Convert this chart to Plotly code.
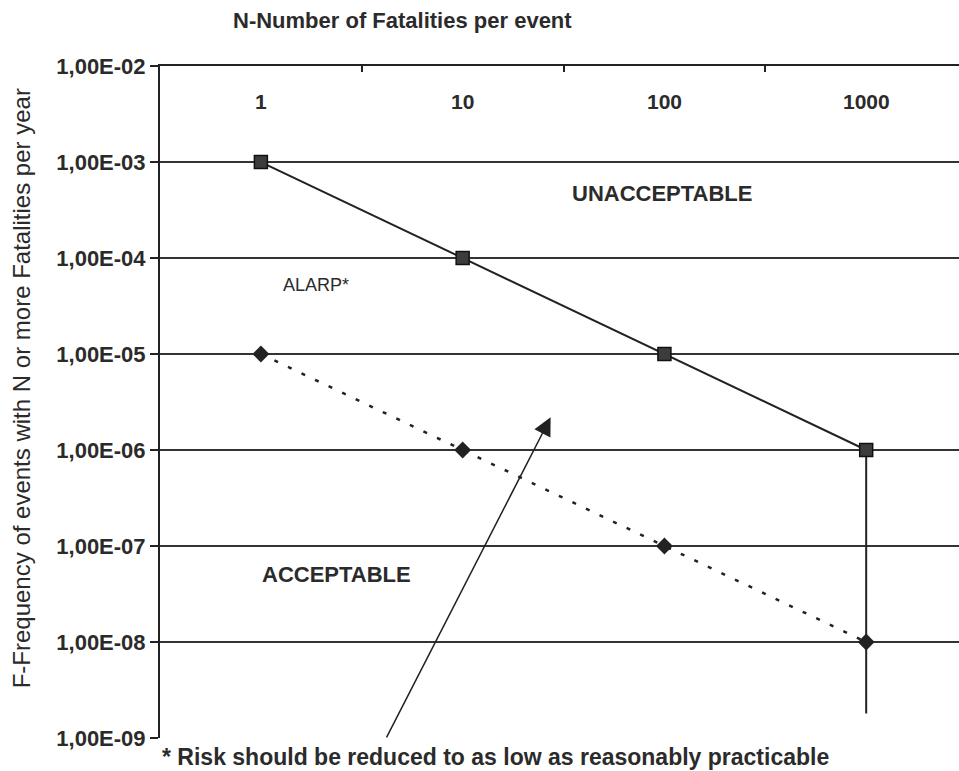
import plotly.graph_objects as go

# ---- data ----
n_categories = ["1", "10", "100", "1000"]
upper_limit_f = [1e-3, 1e-4, 1e-5, 1e-6]        # unacceptable boundary
lower_limit_f = [1e-5, 1e-6, 1e-7, 1e-8]        # acceptable boundary
vertical_n = ["1000", "1000"]
vertical_f = [1e-6, 1.8e-9]
y_tickvals = [1e-2, 1e-3, 1e-4, 1e-5, 1e-6, 1e-7, 1e-8, 1e-9]
y_ticktext = ["1,00E-02", "1,00E-03", "1,00E-04", "1,00E-05",
              "1,00E-06", "1,00E-07", "1,00E-08", "1,00E-09"]
grid_vals = [1e-3, 1e-4, 1e-5, 1e-6, 1e-7, 1e-8]

FONT = "Liberation Sans, Arial, sans-serif"
TXT = "#2b2b2b"
LINE = "#222222"
YR = [-9.0005, -1.9995]

fig = go.Figure()

# empty trace to hold the labelled axis
fig.add_trace(go.Scatter(x=[None], y=[None], yaxis="y", showlegend=False, hoverinfo="skip"))

fig.add_trace(go.Scatter(
    x=vertical_n, y=vertical_f, yaxis="y2", mode="lines",
    line=dict(color=LINE, width=2), showlegend=False))

fig.add_trace(go.Scatter(
    x=n_categories, y=lower_limit_f, yaxis="y2", mode="lines+markers",
    line=dict(color=LINE, width=2.5, dash="4px,11px"),
    marker=dict(symbol="diamond", size=13, color="#222222"),
    showlegend=False))

fig.add_trace(go.Scatter(
    x=n_categories, y=upper_limit_f, yaxis="y2", mode="lines+markers",
    line=dict(color=LINE, width=2),
    marker=dict(symbol="square", size=13, color="#3c3c3c",
                line=dict(color="#111111", width=1.5)),
    showlegend=False))

fig.update_layout(
    width=959, height=771,
    margin=dict(l=160, r=0, t=66, b=33),
    paper_bgcolor="white", plot_bgcolor="white",
    font=dict(family=FONT, color=TXT),
    xaxis=dict(
        type="category", categoryorder="array", categoryarray=n_categories,
        range=[-0.5, 3.46], side="top", tickson="boundaries",
        ticks="inside", ticklen=6, tickwidth=2, tickcolor=LINE,
        showline=True, linecolor=LINE, linewidth=2, showgrid=False,
        showticklabels=False, fixedrange=True),
    yaxis=dict(
        type="log", range=YR, tickvals=y_tickvals, ticktext=y_ticktext,
        ticks="outside", ticklen=8, tickwidth=2, tickcolor=LINE,
        showline=True, linecolor=LINE, linewidth=2, showgrid=False,
        zeroline=False,
        tickfont=dict(size=22, color=TXT, family=FONT, weight="bold")),
    yaxis2=dict(
        type="log", range=YR, overlaying="y", side="left",
        tickvals=grid_vals, showticklabels=False, ticks="",
        showline=False, showgrid=True, gridcolor="#333333", gridwidth=2,
        zeroline=False),
)

# category labels drawn inside the plot below the top axis (positions = category index)
annotations = [
    dict(text="<b>%s</b>" % c, xref="x", yref="y", x=i, y=-2.365,
         xanchor="center", yanchor="middle", showarrow=False,
         font=dict(size=21, color=TXT))
    for i, c in enumerate(n_categories)
]
annotations += [
    dict(text="<b>N-Number of Fatalities per event</b>", xref="paper", yref="paper",
         x=0.304, y=1.068, xanchor="center", yanchor="middle", showarrow=False,
         font=dict(size=22, color=TXT)),
    dict(text="F-Frequency of events with N or more Fatalities per year",
         xref="paper", yref="paper", x=-0.173, y=0.52, textangle=-90,
         xanchor="center", yanchor="middle",
         showarrow=False, font=dict(size=24, color=TXT)),
    dict(text="<b>UNACCEPTABLE</b>", xref="x", yref="y", x=1.99, y=-3.33,
         xanchor="center", yanchor="middle",
         showarrow=False, font=dict(size=22, color=TXT)),
    dict(text="ALARP*", xref="x", yref="y", x=0.275, y=-4.28,
         xanchor="center", yanchor="middle",
         showarrow=False, font=dict(size=18, color=TXT)),
    dict(text="<b>ACCEPTABLE</b>", xref="x", yref="y", x=0.375, y=-7.30,
         xanchor="center", yanchor="middle",
         showarrow=False, font=dict(size=22, color=TXT)),
    dict(text="<b>* Risk should be reduced to as low as reasonably practicable</b>",
         xref="paper", yref="paper", x=0.42, y=-0.028, xanchor="center",
         yanchor="middle", showarrow=False,
         font=dict(size=23, color=TXT)),
    dict(text="", xref="x", yref="y", x=1.436, y=-5.66,
         axref="x", ayref="y", ax=0.619, ay=-9.01,
         showarrow=True, arrowhead=2, arrowsize=2.4, arrowwidth=1.5,
         arrowcolor=LINE),
]
fig.update_layout(annotations=annotations)

fig.write_html("out.html")
